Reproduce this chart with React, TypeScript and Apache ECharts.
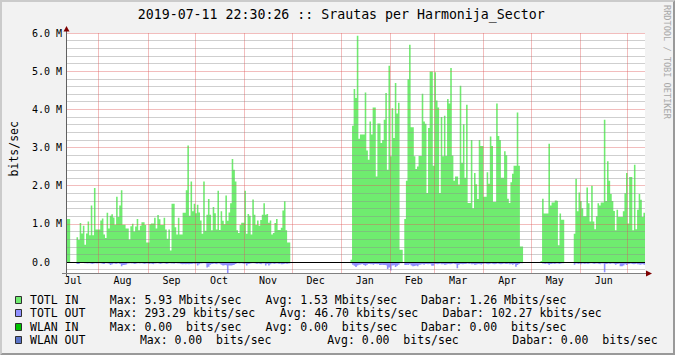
import React, { useEffect, useRef } from 'react';
import * as echarts from 'echarts';

// ---------- data (values in Mbit/s, one value per day) ----------
const FIRST_DAY = '2018-07-12';
const DAY_COUNT = 366;
const MONTH_NAMES = ['Jan', 'Feb', 'Mar', 'Apr', 'May', 'Jun', 'Jul', 'Aug', 'Sep', 'Oct', 'Nov', 'Dec'];
const Y_LABELS = ['0.0', '1.0 M', '2.0 M', '3.0 M', '4.0 M', '5.0 M', '6.0 M'];

const SEG_STARTS = ['2018-07-12', '2018-07-18', '2019-01-07', '2019-02-10', '2019-05-07', '2019-05-28'];

const IN_0 = [1.13];
const OUT_0 = [-0.01];

const IN_1 = [
  0.65, 0.58, 1.02, 0.75, 0.95, 0.45, 0.75, 1.06, 0.70, 1.48,
  0.70, 1.94, 0.85, 0.85, 0.85, 1.09, 1.14, 0.72, 0.63, 1.29,
  0.88, 1.21, 1.25, 1.17, 0.98, 1.71, 1.18, 1.48, 1.88, 0.98,
  0.98, 0.88, 0.88, 0.59, 0.94, 1.00, 0.80, 0.93, 1.13, 0.83,
  0.95, 1.04, 1.04, 0.97, 0.51, 0.51, 0.99, 1.01, 1.01, 1.16,
  0.88, 1.23, 1.12, 0.97, 0.97, 1.16, 0.85, 0.61, 0.85, 0.30,
  1.53, 1.53, 0.91, 0.72, 1.16, 0.72, 0.72, 1.29, 1.29, 1.88,
  3.05, 1.21,
  2.11, 1.33, 1.53, 1.28, 1.50, 1.30, 1.09, 0.74, 2.11, 0.82,
  1.24, 1.65, 1.24, 0.83, 1.44, 1.28, 0.85, 1.87, 0.84, 1.33,
  1.08, 0.99, 1.74, 1.08, 1.30, 1.54, 2.70, 2.42, 2.11, 0.83,
  0.76, 0.97, 1.03, 1.03, 1.87, 0.74, 1.26, 1.21, 0.72, 1.64,
  1.24, 0.97, 1.09, 0.95, 1.10, 1.24, 1.54, 1.24, 1.26, 1.03,
  1.09, 0.72, 0.76, 1.02, 1.13, 0.84, 0.84, 0.90, 1.35, 1.59,
  0.83, 0.51,
];
const OUT_1 = [
  -0.05, -0.05, -0.02, -0.02, -0.03, -0.03, -0.04, -0.03, -0.04, -0.05,
  -0.04, -0.03, -0.04, -0.03, -0.03, -0.04, -0.05, -0.05, -0.03, -0.04,
  -0.05, -0.08, -0.06, -0.04, -0.05, -0.04, -0.03, -0.05, -0.11, -0.08,
  -0.07, -0.06, -0.04, -0.03, -0.04, -0.03, -0.05, -0.04, -0.03, -0.04,
  -0.03, -0.04, -0.05, -0.04, -0.04, -0.05, -0.04, -0.05, -0.06, -0.04,
  -0.03, -0.04, -0.05, -0.04, -0.03, -0.04, -0.05, -0.04, -0.03, -0.04,
  -0.04, -0.05, -0.03, -0.04, -0.04, -0.05, -0.06, -0.05, -0.06, -0.05,
  -0.06, -0.05, -0.05, -0.04, -0.05, -0.04, -0.09, -0.06, -0.04, -0.03,
  -0.03, -0.04, -0.14, -0.12, -0.07, -0.05, -0.04, -0.05, -0.06, -0.04,
  -0.05, -0.07, -0.09, -0.08, -0.09, -0.29, -0.09, -0.09, -0.08, -0.07,
  -0.05, -0.03, -0.04, -0.03, -0.04, -0.05, -0.04, -0.09, -0.05, -0.04,
  -0.03, -0.03, -0.04, -0.05, -0.04, -0.05, -0.06, -0.04, -0.04, -0.09,
  -0.05, -0.09, -0.06, -0.04, -0.05, -0.04, -0.04, -0.05, -0.04, -0.06,
  -0.05, -0.04, -0.05, -0.04,
];

const IN_2 = [
  0.06, 3.57, 4.53, 4.30, 5.93, 3.23, 3.34, 3.34, 3.34, 4.44,
  2.92, 2.68, 3.68, 3.34, 4.05, 4.05, 2.24, 3.63, 3.63, 3.12,
  3.20, 3.73, 4.43, 2.42, 5.14, 2.77, 4.03, 3.25, 4.69, 3.89,
  4.17, 0.32,
];
const OUT_2 = [
  -0.03, -0.07, -0.10, -0.13, -0.09, -0.07, -0.06, -0.05, -0.08, -0.10,
  -0.07, -0.05, -0.06, -0.05, -0.07, -0.05, -0.06, -0.05, -0.08, -0.07,
  -0.08, -0.08, -0.09, -0.18, -0.14, -0.22, -0.09, -0.08, -0.13, -0.10,
  -0.07, -0.03,
];

const IN_3 = [
  1.13, 2.13, 4.79, 5.69, 3.53, 3.53, 2.77, 2.44, 2.50, 2.78,
  2.78, 4.41, 3.68, 3.62, 1.81, 3.51, 4.99, 4.99, 2.52, 4.97,
  4.23, 4.05, 1.81, 3.80, 2.77, 3.83, 2.78, 4.27, 4.15, 5.08,
  2.79, 2.13, 2.24, 2.24, 2.03, 4.62, 2.60, 3.61, 2.21, 4.12,
  1.55, 1.55, 3.20, 1.41, 2.33, 2.04, 1.65, 3.20, 3.04, 3.04,
  1.71, 1.71, 2.35, 2.05, 3.29, 3.04, 1.57, 1.57, 4.15, 3.30,
  3.20, 2.21, 2.21, 2.90, 2.80, 1.66, 1.55, 2.09, 2.31, 2.52,
  2.52, 3.92, 2.52, 0.41,
];
const OUT_3 = [
  -0.08, -0.07, -0.08, -0.06, -0.09, -0.11, -0.10, -0.09, -0.11, -0.07,
  -0.06, -0.05, -0.07, -0.05, -0.06, -0.05, -0.06, -0.10, -0.09, -0.05,
  -0.06, -0.05, -0.04, -0.06, -0.05, -0.07, -0.06, -0.05, -0.06, -0.05,
  -0.04, -0.05, -0.06, -0.16, -0.07, -0.05, -0.06, -0.05, -0.05, -0.04,
  -0.05, -0.04, -0.06, -0.05, -0.07, -0.06, -0.05, -0.06, -0.07, -0.05,
  -0.04, -0.05, -0.06, -0.05, -0.04, -0.05, -0.06, -0.05, -0.04, -0.05,
  -0.06, -0.05, -0.04, -0.05, -0.05, -0.04, -0.06, -0.05, -0.07, -0.05,
  -0.12, -0.08, -0.05, -0.03,
];

const IN_4 = [0.03, 1.66, 1.27, 1.27, 1.27, 3.10, 1.48, 1.56, 1.56, 1.61, 1.60, 0.44, 1.27, 1.11];
const OUT_4 = [-0.02, -0.04, -0.05, -0.04, -0.05, -0.07, -0.05, -0.04, -0.05, -0.04, -0.04, -0.05, -0.04, -0.03];

const IN_5 = [
  0.74, 2.18, 1.33, 1.82, 1.60, 1.41, 1.20, 1.20, 1.95, 1.54,
  1.06, 2.00, 1.06, 0.86, 1.20, 1.54, 1.48, 1.56, 1.56, 3.73,
  1.60, 2.64, 2.13, 1.78, 1.60, 1.34, 0.83, 1.37, 1.18, 1.18,
  1.18, 1.33, 1.80, 2.33, 1.01, 2.23, 2.23, 0.83, 2.55, 0.86,
  1.37, 1.78, 1.63, 1.18, 1.29,
];
const OUT_5 = [
  -0.07, -0.04, -0.05, -0.04, -0.06, -0.04, -0.05, -0.04, -0.05, -0.04,
  -0.03, -0.04, -0.05, -0.04, -0.04, -0.05, -0.06, -0.04, -0.04, -0.27,
  -0.05, -0.04, -0.05, -0.04, -0.04, -0.05, -0.07, -0.05, -0.04, -0.11,
  -0.11, -0.09, -0.06, -0.08, -0.05, -0.04, -0.05, -0.06, -0.05, -0.04,
  -0.06, -0.07, -0.06, -0.05, -0.07,
];

const IN_SEGMENTS = [IN_0, IN_1, IN_2, IN_3, IN_4, IN_5];
const OUT_SEGMENTS = [OUT_0, OUT_1, OUT_2, OUT_3, OUT_4, OUT_5];

const TITLE = '2019-07-11 22:30:26 :: Srautas per Harmonija_Sector';
const WATERMARK = 'RRDTOOL / TOBI OETIKER';
const LEGEND_NAMES = ['TOTL IN', 'TOTL OUT', 'WLAN IN', 'WLAN OUT'];
const LEGEND_MAX = ['Max: 5.93 Mbits/sec', 'Max: 293.29 kbits/sec', 'Max: 0.00  bits/sec', 'Max: 0.00  bits/sec'];
const LEGEND_AVG = ['Avg: 1.53 Mbits/sec', 'Avg: 46.70 kbits/sec', 'Avg: 0.00  bits/sec', 'Avg: 0.00  bits/sec'];
const LEGEND_CUR = ['Dabar: 1.26 Mbits/sec', 'Dabar: 102.27 kbits/sec', 'Dabar: 0.00  bits/sec', 'Dabar: 0.00  bits/sec'];

// ---------- styling ----------
const IN_COLOR = '#6fec6f';
const OUT_COLOR = '#9090ff';
const LEGEND_COLORS = [IN_COLOR, OUT_COLOR, '#00c400', '#5a74c8'];
const MONO = '"DejaVu Sans Mono", monospace';
const GRID_LEFT = 66;
const GRID_TOP = 33;
const GRID_W = 579;
const GRID_H = 240.5;
const MINOR = 'rgba(140,140,140,0.42)';
const MAJOR = 'rgba(222,90,90,0.4)';
const MONTH_LINE = 'rgba(222,90,90,0.4)';
const NONE = 'rgba(0,0,0,0)';
const Y_SPLIT_COLORS = [NONE, MINOR, NONE, MAJOR, NONE, MINOR, NONE, MINOR, NONE, MINOR];

const LEG_ROW_Y = [299.7, 313.2, 326.8, 340.3];
const LEG_MAX_X = [109.8, 109.8, 109.8, 139.9];
const LEG_AVG_X = [265.6, 279.8, 265.6, 327.2];
const LEG_CUR_X = [421, 442.5, 421, 512.3];

function dayMs(s: string) {
  const [y, m, d] = s.split('-').map(Number);
  return Date.UTC(y, m - 1, d);
}

function buildCategories() {
  const t0 = dayMs(FIRST_DAY);
  const out: string[] = [];
  for (let i = 0; i < DAY_COUNT; i++) {
    out.push(new Date(t0 + i * 86400000).toISOString().slice(0, 10));
  }
  return out;
}

function buildSeries(segments: number[][]) {
  const data: (number | null)[] = new Array(DAY_COUNT).fill(null);
  const t0 = dayMs(FIRST_DAY);
  segments.forEach((vals, k) => {
    const st = Math.round((dayMs(SEG_STARTS[k]) - t0) / 86400000);
    vals.forEach((v, j) => {
      if (st + j < DAY_COUNT) data[st + j] = v * 1e6;
    });
    const end = st + vals.length;
    if (end < DAY_COUNT && data[end] === null) data[end] = vals[vals.length - 1] * 1e6;
  });
  return data;
}

function text(t: string, x: number, y: number, size: number, extra: any = {}, fill = '#000') {
  return {
    type: 'text',
    x,
    y,
    z: 20,
    silent: true,
    style: { text: t, fill, font: `${size}px ${MONO}`, align: 'left', verticalAlign: 'middle', ...(extra.style || {}) },
    ...(extra.el || {}),
  };
}

function buildOption() {
  const categories = buildCategories();
  const inData = buildSeries(IN_SEGMENTS);
  const outData = buildSeries(OUT_SEGMENTS);
  const right = GRID_LEFT + GRID_W;
  const bottom = GRID_TOP + GRID_H;

  const graphic: any[] = [
    {
      type: 'polygon', z: 1, silent: true,
      shape: { points: [[0, 355], [2, 353], [2, 2], [673, 2], [675, 0], [0, 0]] },
      style: { fill: '#cbcbcb' },
    },
    {
      type: 'polygon', z: 1, silent: true,
      shape: { points: [[2, 353], [673, 353], [673, 2], [675, 0], [675, 355], [0, 355]] },
      style: { fill: '#999999' },
    },
    text(TITLE, 341.2, 14, 13.25, { style: { align: 'center' } }),
    text(WATERMARK, 666.5, 5, 8.6, { el: { rotation: -Math.PI / 2 } }, '#a8a8a8'),
    {
      type: 'line', z: 15, silent: true,
      shape: { x1: GRID_LEFT + 0.5, y1: bottom + 3, x2: GRID_LEFT + 0.5, y2: GRID_TOP - 4 },
      style: { stroke: '#606060', lineWidth: 1 },
    },
    {
      type: 'polygon', z: 16, silent: true,
      shape: { points: [[GRID_LEFT - 2.5, GRID_TOP - 1.5], [GRID_LEFT + 0.5, GRID_TOP - 7], [GRID_LEFT + 3.5, GRID_TOP - 1.5]] },
      style: { fill: '#7f0000' },
    },
    {
      type: 'line', z: 15, silent: true,
      shape: { x1: GRID_LEFT - 4, y1: bottom, x2: right + 2, y2: bottom },
      style: { stroke: '#808080', lineWidth: 1 },
    },
    {
      type: 'polygon', z: 16, silent: true,
      shape: { points: [[right + 1, bottom - 3], [right + 7, bottom], [right + 1, bottom + 3]] },
      style: { fill: '#7f0000' },
    },
  ];

  LEGEND_NAMES.forEach((name, i) => {
    const y = LEG_ROW_Y[i];
    graphic.push({
      type: 'rect', z: 20, silent: true,
      shape: { x: 15.5, y: Math.round(y) - 3.5, width: 6, height: 7 },
      style: { fill: LEGEND_COLORS[i], stroke: '#303030', lineWidth: 1 },
    });
    graphic.push(text(name, 30, y, 11.5));
    graphic.push(text(LEGEND_MAX[i], LEG_MAX_X[i], y, 11.5));
    graphic.push(text(LEGEND_AVG[i], LEG_AVG_X[i], y, 11.5));
    graphic.push(text(LEGEND_CUR[i], LEG_CUR_X[i], y, 11.5));
  });

  return {
    animation: false,
    backgroundColor: '#f2f2f2',
    grid: {
      left: GRID_LEFT, top: GRID_TOP, width: GRID_W, height: GRID_H,
      show: true, backgroundColor: '#ffffff', borderWidth: 0,
    },
    xAxis: {
      type: 'category',
      data: categories,
      boundaryGap: false,
      z: 3,
      axisLine: { show: false },
      axisTick: { show: false },
      axisLabel: {
        interval: (_i: number, v: string) => v.slice(8, 10) === '16',
        formatter: (v: string) => MONTH_NAMES[Number(v.slice(5, 7)) - 1],
        fontFamily: MONO, fontSize: 10, color: '#000', margin: 2,
      },
      splitLine: {
        show: true,
        interval: (_i: number, v: string) => v.slice(8, 10) === '01',
        lineStyle: { color: MONTH_LINE, type: 'solid', width: 1 },
      },
    },
    yAxis: {
      type: 'value',
      min: -0.3e6,
      max: 6e6,
      interval: 0.1e6,
      z: 3,
      name: 'bits/sec',
      nameLocation: 'middle',
      nameGap: 47,
      nameTextStyle: { fontFamily: MONO, fontSize: 11.5, color: '#000', padding: [0, 0, 0, 9] },
      axisLine: { show: false },
      axisTick: { show: false },
      axisLabel: {
        formatter: (v: number) => {
          const k = Math.round(v / 1e6);
          if (Math.abs(v - k * 1e6) > 1) return '';
          return Y_LABELS[k] ?? '';
        },
        align: 'left',
        margin: 35,
        fontFamily: MONO, fontSize: 10, color: '#000',
      },
      splitLine: { show: true, lineStyle: { color: Y_SPLIT_COLORS, type: 'solid', width: 1 } },
    },
    series: [
      {
        name: 'TOTL IN', type: 'line', data: inData, step: 'end',
        symbol: 'none', showSymbol: false, connectNulls: false, silent: true, z: 2,
        lineStyle: { width: 0 }, itemStyle: { color: IN_COLOR },
        areaStyle: { color: IN_COLOR, opacity: 1 },
        markLine: {
          silent: true, symbol: ['none', 'none'], label: { show: false },
          lineStyle: { color: '#000', type: 'solid', width: 1 },
          data: [{ yAxis: 0 }],
        },
      },
      {
        name: 'TOTL OUT', type: 'line', data: outData, step: 'end',
        symbol: 'none', showSymbol: false, connectNulls: false, silent: true, z: 2,
        lineStyle: { width: 0 }, itemStyle: { color: OUT_COLOR },
        areaStyle: { color: OUT_COLOR, opacity: 1 },
      },
    ],
    graphic,
  };
}

export default function App() {
  const ref = useRef<HTMLDivElement>(null);
  useEffect(() => {
    document.body.style.margin = '0';
    const chart = echarts.init(ref.current!, null, { renderer: 'svg', width: 675, height: 355 });
    chart.setOption(buildOption() as any);
    return () => chart.dispose();
  }, []);
  return <div ref={ref} style={{ width: 675, height: 355 }} />;
}
